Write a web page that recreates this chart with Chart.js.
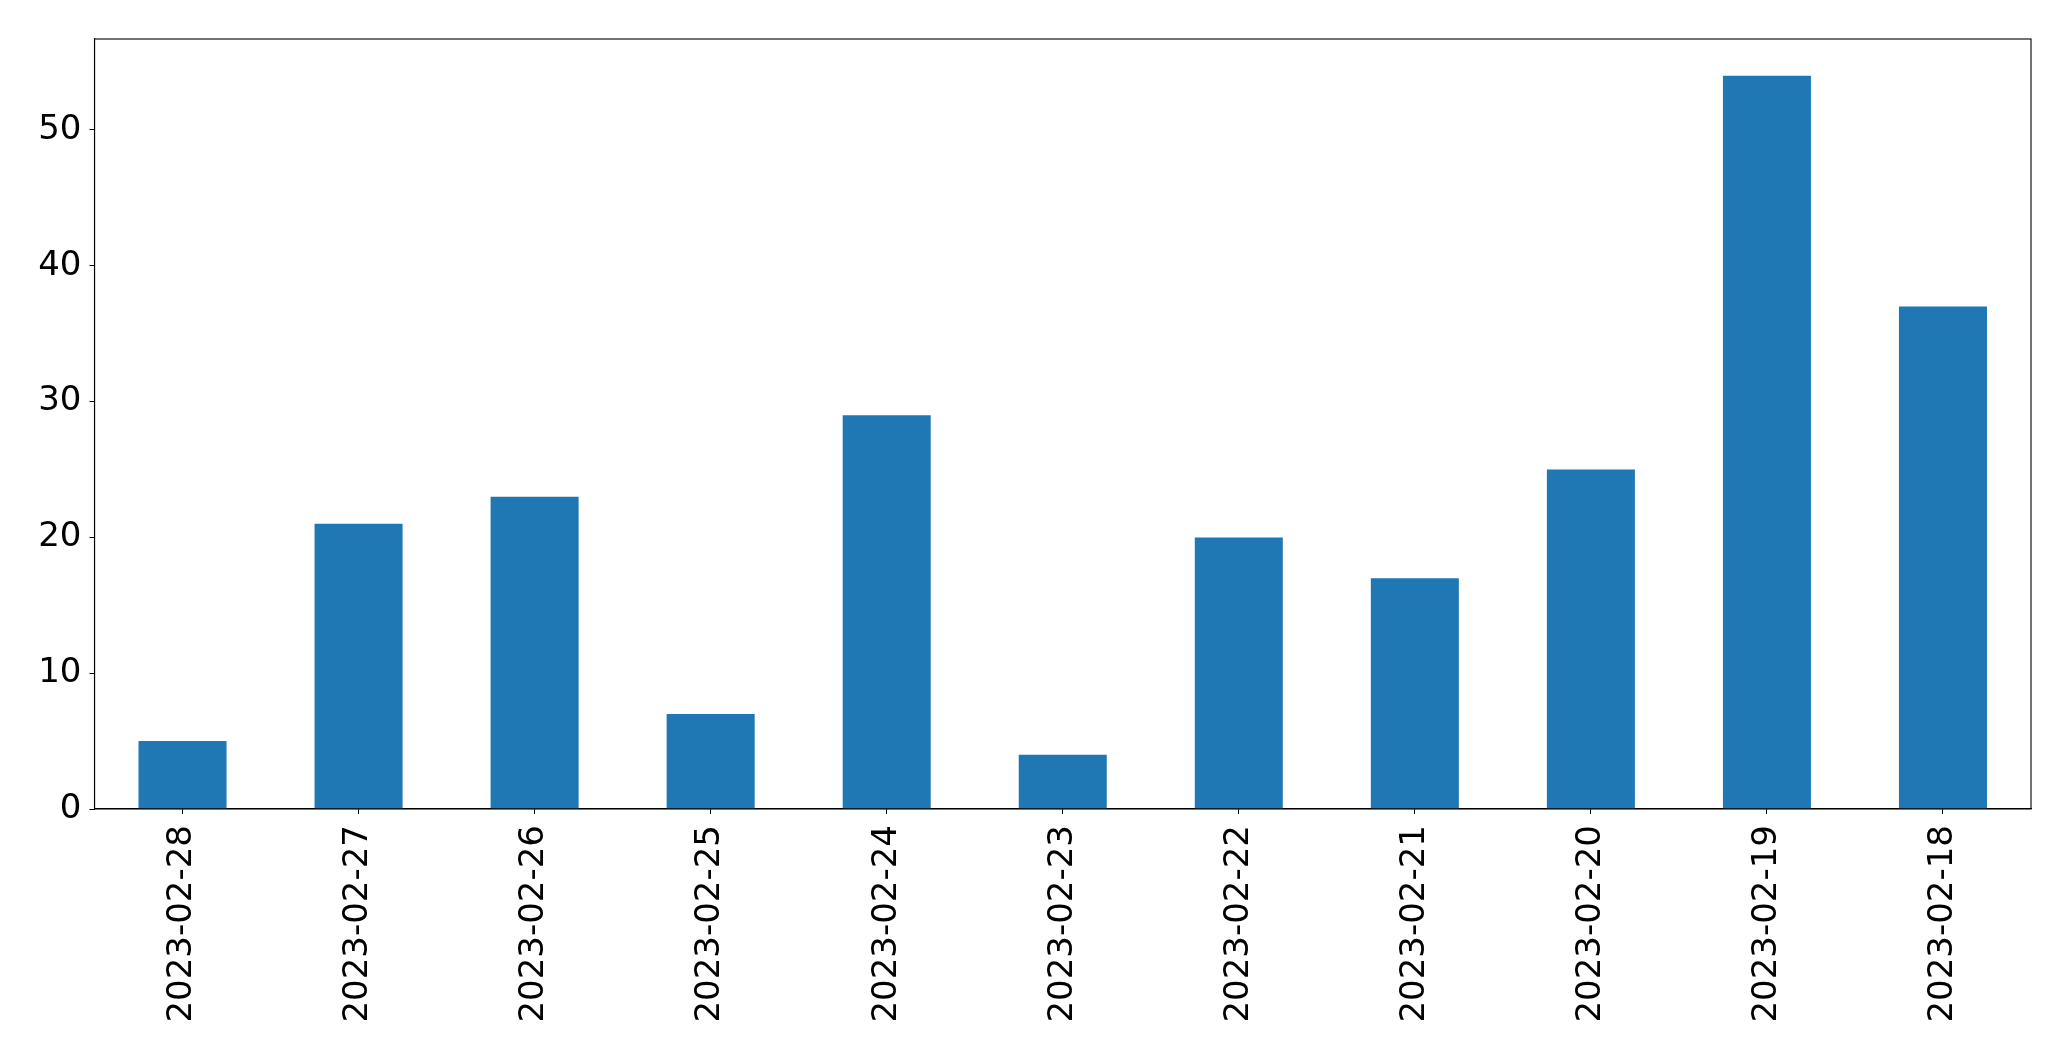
<!DOCTYPE html>
<html>
<head>
<meta charset="utf-8">
<script src="https://cdn.jsdelivr.net/npm/chart.js@4"></script>
<style>
  body { margin: 0; background: #fff; }
</style>
</head>
<body>
<canvas id="barChart" width="2071" height="1061"></canvas>
<script>
// dates, in the order they appear on the x axis
const dates = ['2023-02-28', '2023-02-27', '2023-02-26', '2023-02-25', '2023-02-24', '2023-02-23',
               '2023-02-22', '2023-02-21', '2023-02-20', '2023-02-19', '2023-02-18'];
const counts = [5, 21, 23, 7, 29, 4, 20, 17, 25, 54, 37];
const yTicks = [0, 10, 20, 30, 40, 50];

// box round the plot area, like matplotlib's spines
const frame = {
    id: 'frame',
    afterDraw(chart) {
        const { ctx, chartArea: a } = chart;
        ctx.save();
        ctx.strokeStyle = '#000';
        ctx.lineWidth = 1.1;
        ctx.strokeRect(a.left, a.top, a.right - a.left, a.bottom - a.top);
        ctx.restore();
    }
};

const ctx = document.getElementById('barChart').getContext('2d');
new Chart(ctx, {
    type: 'bar',
    data: {
        labels: dates,
        datasets: [{
            data: counts,
            backgroundColor: '#1f77b4',
            barPercentage: 0.5,
            categoryPercentage: 1.0
        }]
    },
    options: {
        responsive: false,
        animation: false,
        layout: { padding: { top: 39, right: 40, left: 0, bottom: 0 } },
        plugins: { legend: { display: false }, tooltip: { enabled: false } },
        scales: {
            x: {
                offset: true,
                afterFit(s) { s.height = 252; },
                grid: { drawOnChartArea: false, tickLength: 5, color: '#000', offset: false },
                border: { color: '#000', width: 1.1 },
                ticks: {
                    autoSkip: false, minRotation: 90, maxRotation: 90, padding: 11,
                    color: '#000', font: { family: 'DejaVu Sans', size: 34 }
                }
            },
            y: {
                min: 0,
                max: 56.7,
                afterFit(s) { s.width = 94.5; },
                afterBuildTicks(s) { s.ticks = yTicks.map(v => ({ value: v })); },
                grid: { drawOnChartArea: false, tickLength: 5, color: '#000' },
                border: { color: '#000', width: 1.1 },
                ticks: {
                    padding: 8, color: '#000',
                    font: { family: 'DejaVu Sans', size: 34 }
                }
            }
        }
    },
    plugins: [frame]
});
</script>
</body>
</html>
